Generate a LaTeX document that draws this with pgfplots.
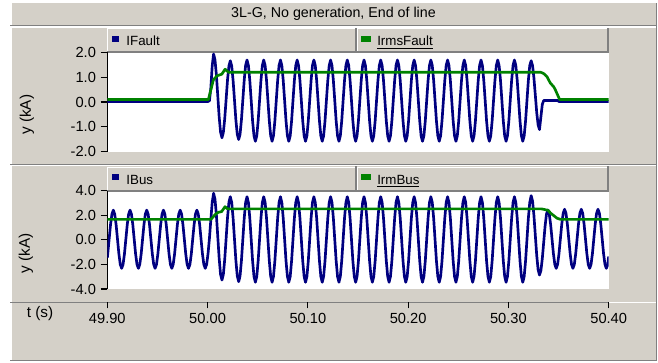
\documentclass[border=0pt]{standalone}
\usepackage{pgfplots}
\pgfplotsset{compat=1.18}
\usepackage{pgfplotstable}
\usepackage{fontspec}
\setmainfont{Liberation Sans}
\definecolor{bg}{RGB}{212,208,200}
\definecolor{dk}{RGB}{128,128,128}
\definecolor{cblue}{RGB}{0,0,128}
\definecolor{cgreen}{RGB}{0,130,0}

\pgfplotstableread[row sep=\\]{
t f b \\
49.90000 0.02 -1.46 \\ 49.90044 0.02 -1.14 \\ 49.90183 0.02 0.05 \\ 49.90322 0.02 1.24 \\ 49.90461 0.02 2.10 \\
49.90600 0.02 2.42 \\ 49.90739 0.02 2.10 \\ 49.90878 0.02 1.24 \\ 49.91017 0.02 0.05 \\ 49.91156 0.02 -1.14 \\ 49.91294 0.02 -2.00 \\ 49.91433 0.02 -2.32 \\ 49.91572 0.02 -2.00 \\ 49.91711 0.02 -1.14 \\ 49.91850 0.02 0.05 \\ 49.91989 0.02 1.24 \\ 49.92128 0.02 2.10 \\
49.92267 0.02 2.42 \\ 49.92406 0.02 2.10 \\ 49.92544 0.02 1.24 \\ 49.92683 0.02 0.05 \\ 49.92822 0.02 -1.14 \\ 49.92961 0.02 -2.00 \\ 49.93100 0.02 -2.32 \\ 49.93239 0.02 -2.00 \\ 49.93378 0.02 -1.14 \\ 49.93517 0.02 0.05 \\ 49.93656 0.02 1.24 \\ 49.93794 0.02 2.10 \\
49.93933 0.02 2.42 \\ 49.94072 0.02 2.10 \\ 49.94211 0.02 1.24 \\ 49.94350 0.02 0.05 \\ 49.94489 0.02 -1.14 \\ 49.94628 0.02 -2.00 \\ 49.94767 0.02 -2.32 \\ 49.94906 0.02 -2.00 \\ 49.95044 0.02 -1.14 \\ 49.95183 0.02 0.05 \\ 49.95322 0.02 1.24 \\ 49.95461 0.02 2.10 \\
49.95600 0.02 2.42 \\ 49.95739 0.02 2.10 \\ 49.95878 0.02 1.24 \\ 49.96017 0.02 0.05 \\ 49.96156 0.02 -1.14 \\ 49.96294 0.02 -2.00 \\ 49.96433 0.02 -2.32 \\ 49.96572 0.02 -2.00 \\ 49.96711 0.02 -1.14 \\ 49.96850 0.02 0.05 \\ 49.96989 0.02 1.24 \\ 49.97128 0.02 2.10 \\
49.97267 0.02 2.42 \\ 49.97406 0.02 2.10 \\ 49.97544 0.02 1.24 \\ 49.97683 0.02 0.05 \\ 49.97822 0.02 -1.14 \\ 49.97961 0.02 -2.00 \\ 49.98100 0.02 -2.32 \\ 49.98239 0.02 -2.00 \\ 49.98378 0.02 -1.14 \\ 49.98517 0.02 0.05 \\ 49.98656 0.02 1.24 \\ 49.98794 0.02 2.10 \\
49.98933 0.02 2.42 \\ 49.99072 0.02 2.10 \\ 49.99211 0.02 1.24 \\ 49.99350 0.02 0.05 \\ 49.99489 0.02 -1.14 \\ 49.99628 0.02 -2.00 \\ 49.99767 0.02 -2.32 \\ 49.99906 0.02 -2.00 \\ 50.00044 0.02 -1.14 \\ 50.00183 0.05 0.10 \\ 50.00322 0.55 1.60 \\ 50.00461 1.45 3.05 \\
50.00600 1.93 3.79 \\ 50.00739 1.70 3.32 \\ 50.00878 1.09 2.03 \\ 50.01017 0.25 0.26 \\ 50.01156 -0.60 -1.51 \\ 50.01294 -1.21 -2.80 \\ 50.01433 -1.44 -3.27 \\ 50.01572 -1.23 -2.82 \\ 50.01711 -0.67 -1.58 \\ 50.01850 0.11 0.12 \\ 50.01989 0.89 1.82 \\ 50.02128 1.45 3.06 \\
50.02267 1.66 3.51 \\ 50.02406 1.45 3.05 \\ 50.02544 0.87 1.78 \\ 50.02683 0.08 0.06 \\ 50.02822 -0.72 -1.67 \\ 50.02961 -1.30 -2.94 \\ 50.03100 -1.51 -3.40 \\ 50.03239 -1.30 -2.94 \\ 50.03378 -0.71 -1.67 \\ 50.03517 0.09 0.06 \\ 50.03656 0.89 1.78 \\ 50.03794 1.48 3.05 \\
50.03933 1.69 3.51 \\ 50.04072 1.47 3.04 \\ 50.04211 0.87 1.77 \\ 50.04350 0.06 0.03 \\ 50.04489 -0.76 -1.71 \\ 50.04628 -1.36 -2.98 \\ 50.04767 -1.58 -3.45 \\ 50.04906 -1.36 -2.98 \\ 50.05044 -0.76 -1.71 \\ 50.05183 0.06 0.03 \\ 50.05322 0.87 1.77 \\ 50.05461 1.47 3.04 \\
50.05600 1.69 3.51 \\ 50.05739 1.47 3.04 \\ 50.05878 0.87 1.77 \\ 50.06017 0.06 0.03 \\ 50.06156 -0.76 -1.71 \\ 50.06294 -1.36 -2.98 \\ 50.06433 -1.58 -3.45 \\ 50.06572 -1.36 -2.98 \\ 50.06711 -0.76 -1.71 \\ 50.06850 0.06 0.03 \\ 50.06989 0.87 1.77 \\ 50.07128 1.47 3.04 \\
50.07267 1.69 3.51 \\ 50.07406 1.47 3.04 \\ 50.07544 0.87 1.77 \\ 50.07683 0.06 0.03 \\ 50.07822 -0.76 -1.71 \\ 50.07961 -1.36 -2.98 \\ 50.08100 -1.58 -3.45 \\ 50.08239 -1.36 -2.98 \\ 50.08378 -0.76 -1.71 \\ 50.08517 0.06 0.03 \\ 50.08656 0.87 1.77 \\ 50.08794 1.47 3.04 \\
50.08933 1.69 3.51 \\ 50.09072 1.47 3.04 \\ 50.09211 0.87 1.77 \\ 50.09350 0.06 0.03 \\ 50.09489 -0.76 -1.71 \\ 50.09628 -1.36 -2.98 \\ 50.09767 -1.58 -3.45 \\ 50.09906 -1.36 -2.98 \\ 50.10044 -0.76 -1.71 \\ 50.10183 0.06 0.03 \\ 50.10322 0.87 1.77 \\ 50.10461 1.47 3.04 \\
50.10600 1.69 3.51 \\ 50.10739 1.47 3.04 \\ 50.10878 0.87 1.77 \\ 50.11017 0.06 0.03 \\ 50.11156 -0.76 -1.71 \\ 50.11294 -1.36 -2.98 \\ 50.11433 -1.58 -3.45 \\ 50.11572 -1.36 -2.98 \\ 50.11711 -0.76 -1.71 \\ 50.11850 0.06 0.03 \\ 50.11989 0.87 1.77 \\ 50.12128 1.47 3.04 \\
50.12267 1.69 3.51 \\ 50.12406 1.47 3.04 \\ 50.12544 0.87 1.77 \\ 50.12683 0.06 0.03 \\ 50.12822 -0.76 -1.71 \\ 50.12961 -1.36 -2.98 \\ 50.13100 -1.58 -3.45 \\ 50.13239 -1.36 -2.98 \\ 50.13378 -0.76 -1.71 \\ 50.13517 0.06 0.03 \\ 50.13656 0.87 1.77 \\ 50.13794 1.47 3.04 \\
50.13933 1.69 3.51 \\ 50.14072 1.47 3.04 \\ 50.14211 0.87 1.77 \\ 50.14350 0.06 0.03 \\ 50.14489 -0.76 -1.71 \\ 50.14628 -1.36 -2.98 \\ 50.14767 -1.58 -3.45 \\ 50.14906 -1.36 -2.98 \\ 50.15044 -0.76 -1.71 \\ 50.15183 0.06 0.03 \\ 50.15322 0.87 1.77 \\ 50.15461 1.47 3.04 \\
50.15600 1.69 3.51 \\ 50.15739 1.47 3.04 \\ 50.15878 0.87 1.77 \\ 50.16017 0.06 0.03 \\ 50.16156 -0.76 -1.71 \\ 50.16294 -1.36 -2.98 \\ 50.16433 -1.58 -3.45 \\ 50.16572 -1.36 -2.98 \\ 50.16711 -0.76 -1.71 \\ 50.16850 0.06 0.03 \\ 50.16989 0.87 1.77 \\ 50.17128 1.47 3.04 \\
50.17267 1.69 3.51 \\ 50.17406 1.47 3.04 \\ 50.17544 0.87 1.77 \\ 50.17683 0.06 0.03 \\ 50.17822 -0.76 -1.71 \\ 50.17961 -1.36 -2.98 \\ 50.18100 -1.58 -3.45 \\ 50.18239 -1.36 -2.98 \\ 50.18378 -0.76 -1.71 \\ 50.18517 0.06 0.03 \\ 50.18656 0.87 1.77 \\ 50.18794 1.47 3.04 \\
50.18933 1.69 3.51 \\ 50.19072 1.47 3.04 \\ 50.19211 0.87 1.77 \\ 50.19350 0.06 0.03 \\ 50.19489 -0.76 -1.71 \\ 50.19628 -1.36 -2.98 \\ 50.19767 -1.58 -3.45 \\ 50.19906 -1.36 -2.98 \\ 50.20044 -0.76 -1.71 \\ 50.20183 0.06 0.03 \\ 50.20322 0.87 1.77 \\ 50.20461 1.47 3.04 \\
50.20600 1.69 3.51 \\ 50.20739 1.47 3.04 \\ 50.20878 0.87 1.77 \\ 50.21017 0.06 0.03 \\ 50.21156 -0.76 -1.71 \\ 50.21294 -1.36 -2.98 \\ 50.21433 -1.58 -3.45 \\ 50.21572 -1.36 -2.98 \\ 50.21711 -0.76 -1.71 \\ 50.21850 0.06 0.03 \\ 50.21989 0.87 1.77 \\ 50.22128 1.47 3.04 \\
50.22267 1.69 3.51 \\ 50.22406 1.47 3.04 \\ 50.22544 0.87 1.77 \\ 50.22683 0.06 0.03 \\ 50.22822 -0.76 -1.71 \\ 50.22961 -1.36 -2.98 \\ 50.23100 -1.58 -3.45 \\ 50.23239 -1.36 -2.98 \\ 50.23378 -0.76 -1.71 \\ 50.23517 0.06 0.03 \\ 50.23656 0.87 1.77 \\ 50.23794 1.47 3.04 \\
50.23933 1.69 3.51 \\ 50.24072 1.47 3.04 \\ 50.24211 0.87 1.77 \\ 50.24350 0.06 0.03 \\ 50.24489 -0.76 -1.71 \\ 50.24628 -1.36 -2.98 \\ 50.24767 -1.58 -3.45 \\ 50.24906 -1.36 -2.98 \\ 50.25044 -0.76 -1.71 \\ 50.25183 0.06 0.03 \\ 50.25322 0.87 1.77 \\ 50.25461 1.47 3.04 \\
50.25600 1.69 3.51 \\ 50.25739 1.47 3.04 \\ 50.25878 0.87 1.77 \\ 50.26017 0.06 0.03 \\ 50.26156 -0.76 -1.71 \\ 50.26294 -1.36 -2.98 \\ 50.26433 -1.58 -3.45 \\ 50.26572 -1.36 -2.98 \\ 50.26711 -0.76 -1.71 \\ 50.26850 0.06 0.03 \\ 50.26989 0.87 1.77 \\ 50.27128 1.47 3.04 \\
50.27267 1.69 3.51 \\ 50.27406 1.47 3.04 \\ 50.27544 0.87 1.77 \\ 50.27683 0.06 0.03 \\ 50.27822 -0.76 -1.71 \\ 50.27961 -1.36 -2.98 \\ 50.28100 -1.58 -3.45 \\ 50.28239 -1.36 -2.98 \\ 50.28378 -0.76 -1.71 \\ 50.28517 0.06 0.03 \\ 50.28656 0.87 1.77 \\ 50.28794 1.47 3.04 \\
50.28933 1.69 3.51 \\ 50.29072 1.47 3.04 \\ 50.29211 0.87 1.77 \\ 50.29350 0.06 0.03 \\ 50.29489 -0.76 -1.71 \\ 50.29628 -1.36 -2.98 \\ 50.29767 -1.58 -3.45 \\ 50.29906 -1.36 -2.98 \\ 50.30044 -0.76 -1.71 \\ 50.30183 0.06 0.03 \\ 50.30322 0.87 1.77 \\ 50.30461 1.47 3.04 \\
50.30600 1.69 3.51 \\ 50.30739 1.47 3.04 \\ 50.30878 0.87 1.77 \\ 50.31017 0.06 0.03 \\ 50.31156 -0.76 -1.71 \\ 50.31294 -1.36 -2.98 \\ 50.31433 -1.58 -3.45 \\ 50.31572 -1.36 -2.98 \\ 50.31711 -0.76 -1.71 \\ 50.31850 0.06 0.03 \\ 50.31989 0.87 1.77 \\ 50.32128 1.47 3.04 \\
50.32267 1.66 3.60 \\ 50.32406 1.47 3.17 \\ 50.32544 0.97 1.99 \\ 50.32683 0.28 0.37 \\ 50.32822 -0.42 -1.25 \\ 50.32961 -0.92 -2.43 \\ 50.33100 -1.11 -2.86 \\ 50.33239 -0.60 -2.51 \\ 50.33378 -0.10 -1.54 \\ 50.33517 0.06 -0.22 \\ 50.33656 0.06 1.11 \\ 50.33794 0.06 2.08 \\
50.33933 0.06 2.43 \\ 50.34072 0.06 2.11 \\ 50.34211 0.06 1.24 \\ 50.34350 0.06 0.06 \\ 50.34489 0.06 -1.13 \\ 50.34628 0.06 -2.00 \\ 50.34767 0.06 -2.32 \\ 50.34906 0.06 -2.00 \\ 50.35044 0.02 -1.12 \\ 50.35183 0.02 0.09 \\ 50.35322 0.02 1.29 \\ 50.35461 0.02 2.17 \\
50.35600 0.02 2.49 \\ 50.35739 0.02 2.17 \\ 50.35878 0.02 1.29 \\ 50.36017 0.02 0.09 \\ 50.36156 0.02 -1.12 \\ 50.36294 0.02 -2.00 \\ 50.36433 0.02 -2.32 \\ 50.36572 0.02 -2.00 \\ 50.36711 0.02 -1.12 \\ 50.36850 0.02 0.09 \\ 50.36989 0.02 1.29 \\ 50.37128 0.02 2.17 \\
50.37267 0.02 2.49 \\ 50.37406 0.02 2.17 \\ 50.37544 0.02 1.29 \\ 50.37683 0.02 0.09 \\ 50.37822 0.02 -1.12 \\ 50.37961 0.02 -2.00 \\ 50.38100 0.02 -2.32 \\ 50.38239 0.02 -2.00 \\ 50.38378 0.02 -1.12 \\ 50.38517 0.02 0.09 \\ 50.38656 0.02 1.29 \\ 50.38794 0.02 2.17 \\
50.38933 0.02 2.49 \\ 50.39072 0.02 2.17 \\ 50.39211 0.02 1.29 \\ 50.39350 0.02 0.09 \\ 50.39489 0.02 -1.12 \\ 50.39628 0.02 -2.00 \\ 50.39767 0.02 -2.32 \\ 50.39906 0.02 -2.00 \\ 50.40000 0.02 -1.35 \\
}\datatable

\pgfplotsset{
  panel/.style={
    scale only axis, width=376.05pt,
    xmin=49.9, xmax=50.4,
    axis x line=none, axis y line*=left,
    y axis line style={-, black, line width=0.8pt},
    tick align=outside, major tick length=5pt,
    ytick style={black, line width=0.8pt},
    /pgf/number format/assume math mode=true,
    yticklabel style={font=\fontsize{11}{13}\selectfont,
      /pgf/number format/fixed, /pgf/number format/fixed zerofill,
      /pgf/number format/precision=1},
    clip=true,
  },
}

\begin{document}
\begin{tikzpicture}
\begin{scope}[x=0.75pt,y=-0.75pt]
  \fill[white] (0,0) rectangle (658,362);
  % title bar
  \fill[bg] (12,3) rectangle (657,25);
  \draw[dk, line width=0.9pt] (10,25.5) -- (657,25.5);
  % panel 1
  \fill[bg] (12,27.5) rectangle (657,163.5);
  \draw[dk, line width=0.9pt] (10,164.5) -- (657,164.5);
  % panel 2
  \fill[bg] (12,166) rectangle (657,301.5);
  \draw[dk, line width=1pt] (10,302.3) -- (608,302.3);
  % time axis area
  \fill[bg] (12,303.2) rectangle (657,360);
  \draw[dk, line width=0.9pt] (10,360.8) -- (657,360.8);
  \draw[dk, line width=0.9pt] (656.5,3) -- (656.5,361);
  % plot areas
  \fill[white] (107.3,52.3) rectangle (608.7,151.7);
  \fill[white] (107.3,190.7) rectangle (608.7,289);
  % legend boxes
  \foreach \oy in {0,138.4}{
    \draw[white, line width=0.9pt] (107.8,52+\oy) -- (107.8,28.8+\oy) -- (355.5,28.8+\oy);
    \draw[white, line width=0.9pt] (357.3,52+\oy) -- (357.3,28.8+\oy) -- (607,28.8+\oy);
    \draw[dk, line width=1.5pt] (107.3,52.3+\oy) -- (608,52.3+\oy) -- (608,28+\oy);
    \draw[dk, line width=1.2pt] (356,28+\oy) -- (356,52.3+\oy);
    \fill[cblue] (111.7,36+\oy) rectangle (119,41.7+\oy);
    \fill[cgreen] (361.3,36+\oy) rectangle (371,41.7+\oy);
  }
  \node[anchor=base west, inner sep=0pt, font=\fontsize{10}{12}\selectfont] at (126.2,45.8) {IFault};
  \node[anchor=base west, inner sep=0pt, font=\fontsize{10}{12}\selectfont] at (377,45.8) {\underline{IrmsFault}};
  \node[anchor=base west, inner sep=0pt, font=\fontsize{10}{12}\selectfont] at (126.2,184.2) {IBus};
  \node[anchor=base west, inner sep=0pt, font=\fontsize{10}{12}\selectfont] at (377,184.2) {\underline{IrmBus}};
  % texts
  \node[font=\fontsize{10.7}{13}\selectfont] at (333.5,14) {3L-G, No generation, End of line};
  \node[rotate=90, font=\fontsize{11.5}{14}\selectfont] at (27,114.7) {y (kA)};
  \node[rotate=90, font=\fontsize{11.5}{14}\selectfont] at (26,253) {y (kA)};
  \node[font=\fontsize{11.5}{14}\selectfont] at (40,313.5) {t (s)};
\end{scope}

% Panel 1
\begin{axis}[panel, at={(80.475pt,-113.775pt)}, anchor=south west,
  height=74.55pt, ymin=-2, ymax=2, ytick={-2,-1,0,1,2}]
  \addplot[cblue, line width=2pt, line join=round] table[x=t, y=f] {\datatable};
  \addplot[cgreen, line width=2pt, line join=round] coordinates {
    (49.9000,0.10) (50.0008,0.10) (50.0058,0.89) (50.0092,1.05) (50.0142,1.12)
    (50.0175,1.32) (50.0208,1.20) (50.3320,1.20) (50.3350,1.15) (50.3385,1.02)
    (50.3418,0.76) (50.3451,0.62) (50.3468,0.49) (50.3511,0.10) (50.4000,0.10)};
\end{axis}

% Panel 2
\begin{axis}[panel, at={(80.475pt,-216.75pt)}, anchor=south west,
  height=73.725pt, ymin=-4, ymax=4, ytick={-4,-2,0,2,4}]
  \addplot[cblue, line width=2pt, line join=round] table[x=t, y=b] {\datatable};
  \addplot[cgreen, line width=2pt, line join=round] coordinates {
    (49.9000,1.67) (50.0034,1.67) (50.0080,2.10) (50.0107,2.24) (50.0140,2.30)
    (50.0174,2.70) (50.0195,2.55) (50.0210,2.52) (50.3330,2.52) (50.3370,2.45)
    (50.3395,2.40) (50.3425,2.15) (50.3485,1.76) (50.3518,1.67) (50.4000,1.67)};
\end{axis}

% Time axis
\begin{axis}[scale only axis, width=376.05pt, height=1pt,
  at={(80.475pt,-226.725pt)}, anchor=south west,
  xmin=49.9, xmax=50.4, ymin=0, ymax=1,
  axis x line*=bottom, hide y axis,
  x axis line style={draw=none},
  tick align=outside, major tick length=4.5pt,
  xtick style={black, line width=0.8pt},
  xtick={49.9,50.0,50.1,50.2,50.3,50.4},
  scaled x ticks=false,
  /pgf/number format/assume math mode=true,
  xticklabel style={font=\fontsize{11}{13}\selectfont,
    /pgf/number format/fixed, /pgf/number format/fixed zerofill,
    /pgf/number format/precision=2},
]
\end{axis}

\pgfresetboundingbox
\useasboundingbox (0pt,0pt) rectangle (493.5pt,-271.5pt);
\end{tikzpicture}
\end{document}
